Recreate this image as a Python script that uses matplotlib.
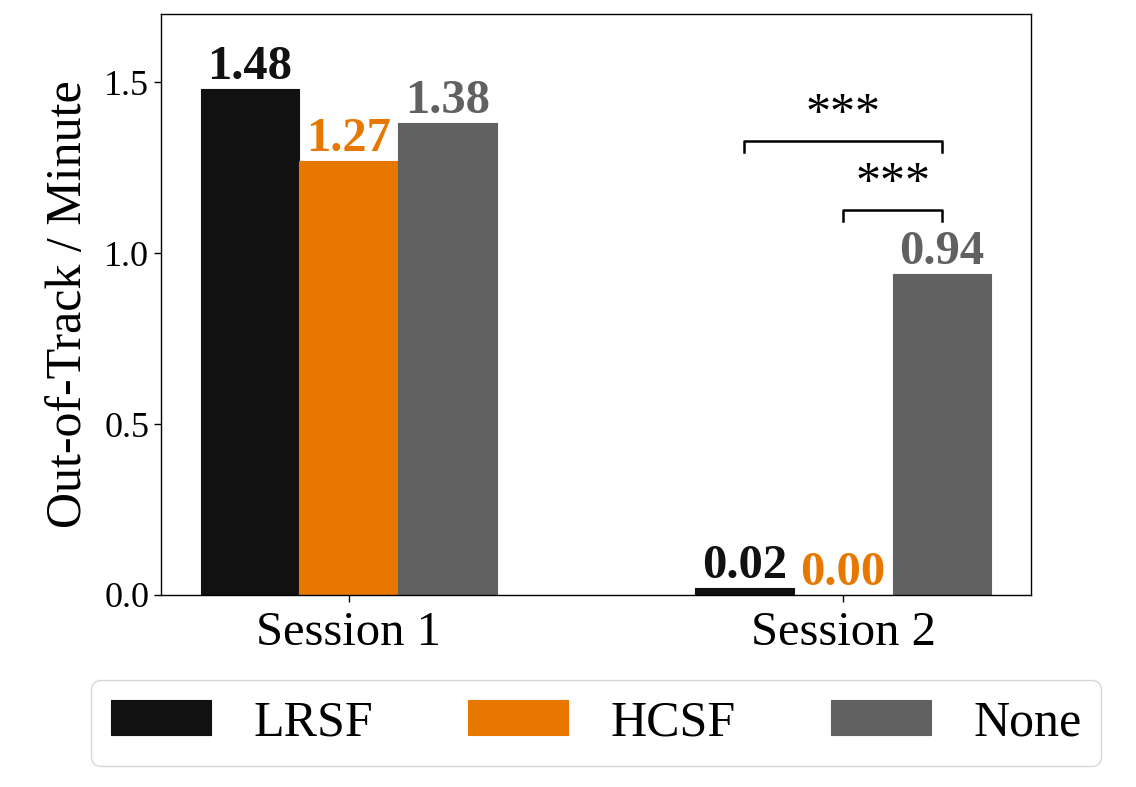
import matplotlib
matplotlib.use("Agg")
import matplotlib.pyplot as plt
import numpy as np

plt.rcParams["font.family"] = ["Liberation Serif", "DejaVu Serif"]

sessions = ["Session 1", "Session 2"]
conditions = ["LRSF", "HCSF", "None"]
lrsf = [1.48, 0.02]
hcsf = [1.27, 0.00]
none = [1.38, 0.94]
colors = ["#111111", "#E87700", "#616161"]

# significance brackets: (session, cond_a, cond_b, height, text)
brackets = [(1, 0, 2, 1.328, "***"), (1, 1, 2, 1.126, "***")]

fig, ax = plt.subplots(figsize=(11.36, 7.87), dpi=100)
fig.subplots_adjust(left=0.1417, right=0.9076, top=0.9822, bottom=0.2440)

x = np.arange(len(sessions))
width = 0.2
offsets = [-width, 0, width]

for vals, label, color, off in zip([lrsf, hcsf, none], conditions, colors, offsets):
    bars = ax.bar(x + off, vals, width, label=label, color=color,
                  edgecolor=color, linewidth=0.8)
    ax.bar_label(bars, labels=[f"{v:.2f}" for v in vals], padding=0,
                 fontsize=35, fontweight="bold", color=color)

tick_drop = 0.032
for s, a, b, h, txt in brackets:
    xa = x[s] + offsets[a]
    xb = x[s] + offsets[b]
    ax.plot([xa, xa, xb, xb], [h - tick_drop, h, h, h - tick_drop],
            color="black", linewidth=1.8)
    ax.annotate(txt, ((xa + xb) / 2, h), xytext=(0, 2), textcoords="offset points",
                ha="center", va="bottom", fontsize=36)

ax.set_xlim(-0.38, 1.38)
ax.set_ylim(0, 1.7)
ax.set_xticks(x)
ax.set_xticklabels(sessions, fontsize=35)
ax.set_yticks([0.0, 0.5, 1.0, 1.5])
ax.set_yticklabels(["0.0", "0.5", "1.0", "1.5"], fontsize=26)
ax.set_ylabel("Out-of-Track / Minute", fontsize=36, labelpad=9)
ax.tick_params(axis="both", length=5, width=1)
ax.tick_params(axis="x", pad=6.5)
for sp in ax.spines.values():
    sp.set_linewidth(1.0)

ax.legend(loc="upper center", bbox_to_anchor=(0.5, -0.146), ncol=3,
          fontsize=36, borderaxespad=0, handletextpad=0.85,
          columnspacing=1.9, handlelength=2.0, handleheight=0.7)

fig.savefig("out.png", dpi=100)
